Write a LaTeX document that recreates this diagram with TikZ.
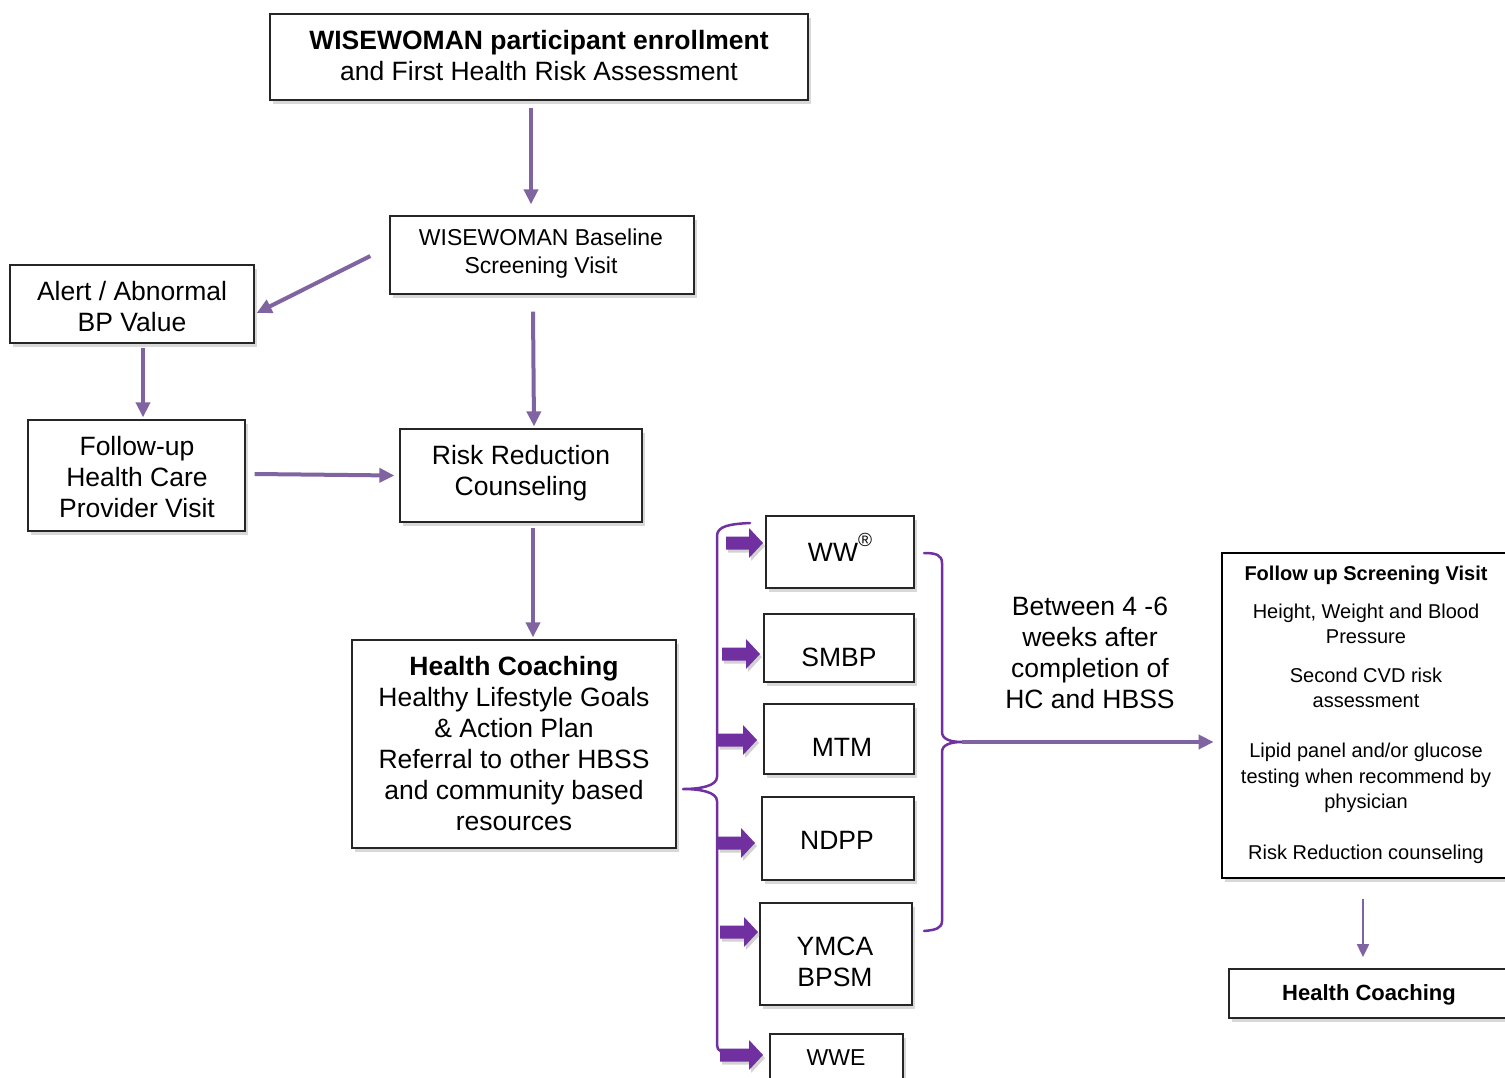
\documentclass[tikz,border=0pt]{standalone}
\usepackage{fontspec}
\setmainfont{Liberation Sans}
\usetikzlibrary{arrows.meta,calc,shadows}
\definecolor{connpurple}{HTML}{8064A2}
\definecolor{deeppurple}{HTML}{7030A0}
\newcommand\fsA{\fontsize{26.5}{31}\selectfont}
\newcommand\fsB{\fontsize{23}{28}\selectfont}
\newcommand\fsC{\fontsize{20}{25.5}\selectfont}
\newcommand\fsD{\fontsize{22}{26}\selectfont}
\newcommand\fatarrow[3]{%
  \fill[fat] (#1,#3-6.5) -- (#2-14,#3-6.5) -- (#2-14,#3-15) -- (#2,#3) --
    (#2-14,#3+15) -- (#2-14,#3+6.5) -- (#1,#3+6.5) -- cycle;}
\begin{document}
\begin{tikzpicture}[x=1pt,y=-1pt,
  box/.style={draw=black!85,line width=1.3pt,fill=white,inner sep=0pt,
    drop shadow={shadow xshift=3pt,shadow yshift=-4pt,opacity=0.3}},
  txt/.style={align=center,inner sep=0pt,font=\fsA},
  link/.style={draw=connpurple,line width=4pt,-{Triangle[length=15pt,width=14pt]}},
  brace/.style={draw=deeppurple,line width=2.5pt,line cap=round,line join=round},
  fat/.style={fill=deeppurple,drop shadow={shadow xshift=2pt,shadow yshift=-3pt,opacity=0.35}}
]
\useasboundingbox (0,0) rectangle (1505,1078);
\fill[white] (0,0) rectangle (1505,1078);
\clip (0,0) rectangle (1505,1078);

% boxes
\node[box,minimum width=538pt,minimum height=86pt] (top) at (539,57) {};
\node[txt] (topt) at (539,55.5) {\textbf{WISEWOMAN participant enrollment}\\and First Health Risk Assessment};

\node[box,minimum width=304pt,minimum height=78pt] (base) at (542,255) {};
\node[txt,font=\fsB] (baset) at (541,254) {WISEWOMAN Baseline\\Screening Visit};

\node[box,minimum width=244pt,minimum height=78pt] (alert) at (132,304) {};
\node[txt] (alertt) at (132,306.5) {Alert / Abnormal\\BP Value};

\node[box,minimum width=217pt,minimum height=111pt] (follow) at (136.5,475.5) {};
\node[txt] (followt) at (137,477) {Follow-up\\Health Care\\Provider Visit};

\node[box,minimum width=242pt,minimum height=93pt] (risk) at (521,475.5) {};
\node[txt] (riskt) at (521,473.5) {Risk Reduction\\Counseling};

\node[box,minimum width=324pt,minimum height=208pt] (hc) at (514,744) {};
\node[txt] (hct) at (514,744) {\textbf{Health Coaching}\\Healthy Lifestyle Goals\\\& Action Plan\\Referral to other HBSS\\and community based\\resources};

\node[box,minimum width=148pt,minimum height=72pt] (ww) at (840,552) {};
\node[txt] (wwt) at (840,552) {WW\smash{\raisebox{15pt}{\fontsize{19}{19}\selectfont\textregistered}}};

\node[box,minimum width=150pt,minimum height=68pt] (smbp) at (839,648) {};
\node[txt] (smbpt) at (839,657) {SMBP};

\node[box,minimum width=150pt,minimum height=70pt] (mtm) at (839,739) {};
\node[txt] (mtmt) at (842,747) {MTM};

\node[box,minimum width=152pt,minimum height=83pt] (ndpp) at (838,838.5) {};
\node[txt] (ndppt) at (837,840) {NDPP};

\node[box,minimum width=152pt,minimum height=102pt] (ymca) at (836,954) {};
\node[txt] (ymcat) at (835,961.5) {YMCA\\BPSM};

\node[box,minimum width=133pt,minimum height=60pt] (wwe) at (836.5,1064) {};
\node[txt,font=\fsB] (wwet) at (836,1058) {WWE};

\node[box,line width=2.8pt,draw=black,minimum width=288pt,minimum height=325pt] (fu) at (1366,715.5) {};
\node[txt,font=\fsC] (fut) at (1366,715) {\textbf{Follow up Screening Visit}\\[12.5pt]
  Height, Weight and Blood\\Pressure\\[13pt]
  Second CVD risk\\assessment\\[24.5pt]
  Lipid panel and/or glucose\\testing when recommend by\\physician\\[25.5pt]
  Risk Reduction counseling};

\node[box,line width=1.8pt,minimum width=281pt,minimum height=49pt] (hc2) at (1369.5,993.5) {};
\node[txt,font=\fsD] (hc2t) at (1369,994.5) {\textbf{Health Coaching}};

\node[txt] (between) at (1090,653) {Between 4 -6\\weeks after\\completion of\\HC and HBSS};

% connectors
\draw[link] ($(top.south)+(-8,7)$) -- ($(base.north)+(-11,-11)$);
\draw[link] ($(base.west)+(-19,1)$) -- ($(alert.east)+(2,9)$);
\draw[link] ($(alert.south)+(11,4)$) -- ($(follow.north)+(6.5,-2)$);
\draw[link] ($(follow.east)+(9,-1.5)$) -- ($(risk.west)+(-5,0)$);
\draw[link] ($(base.south)+(-9,17)$) -- ($(risk.north)+(13,-2)$);
\draw[link] ($(risk.south)+(12,5)$) -- ($(hc.north)+(19,-2)$);

% left brace
\draw[brace] (750,523) .. controls (730,524) and (717,526) .. (717,536)
  -- (717,777) .. controls (717,786) and (700,789) .. (683,789)
  .. controls (700,789) and (717,792) .. (717,801)
  -- (717,1045) .. controls (717,1051) and (722,1053) .. (732,1054);

% right brace
\coordinate (rtip) at (962,742);
\draw[brace] (924,553) .. controls (936,553) and (942,555) .. (942,563)
  -- (942,732) .. controls (942,739) and (950,742) .. (rtip)
  .. controls (950,742) and (942,745) .. (942,752)
  -- (942,921) .. controls (942,928) and (936,930) .. (924,931);
\draw[link] (rtip) -- ($(rtip -| fu.west)+(-7,0)$);

\draw[draw=connpurple,line width=2pt,-{Triangle[length=13pt,width=12pt]}]
  ($(fu.south)+(-3,20)$) -- ($(hc2.north)+(-6.5,-11)$);

% fat arrows
\fatarrow{726}{763}{543}
\fatarrow{722}{760}{654}
\fatarrow{718}{757}{740}
\fatarrow{718}{755}{843}
\fatarrow{720}{758}{932}
\fatarrow{720}{763}{1055}
\end{tikzpicture}
\end{document}
